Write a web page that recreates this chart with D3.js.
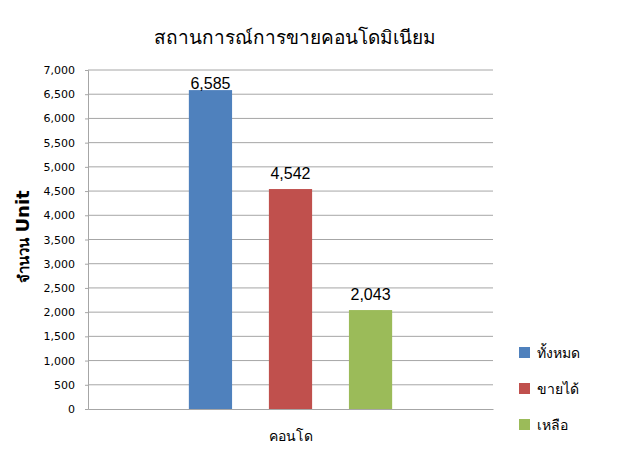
<!DOCTYPE html>
<html>
<head>
<meta charset="utf-8">
<script src="https://cdn.jsdelivr.net/npm/d3@7"></script>
<style>
  body { margin: 0; background: #fff; }
  text { font-family: "DejaVu Sans", "Noto Sans", sans-serif; }
</style>
</head>
<body>
<svg width="623" height="466"></svg>
<script>
var categories = ["คอนโด"];
var seriesNames = ["ทั้งหมด", "ขายได้", "เหลือ"];
var seriesValues = [6585, 4542, 2043];
var seriesColors = ["#4F81BD", "#C0504D", "#9BBB59"];
var yTicks = [0, 500, 1000, 1500, 2000, 2500, 3000, 3500, 4000, 4500, 5000, 5500, 6000, 6500, 7000];

var svg = d3.select("svg"),
    margin = {top: 70, right: 130, bottom: 57, left: 88},
    width = +svg.attr("width") - margin.left - margin.right,
    height = +svg.attr("height") - margin.top - margin.bottom,
    g = svg.append("g").attr("transform", "translate(" + margin.left + "," + margin.top + ")");

var x0 = d3.scaleBand().domain(categories).range([0, width]).padding(0);
var x1 = d3.scaleBand().domain(seriesNames).range([0, x0.bandwidth()])
    .paddingInner(0.46).paddingOuter(1.26);
var y = d3.scaleLinear().domain([0, 7000]).range([height, 0]);
var fmt = d3.format(",");

// gridlines
g.append("g")
    .selectAll("line")
    .data(yTicks.slice(1))
    .enter().append("line")
      .attr("x1", 0).attr("x2", width)
      .attr("y1", function(d) { return y(d); })
      .attr("y2", function(d) { return y(d); })
      .attr("stroke", "#a6a6a6");

var yAxis = g.append("g")
    .call(d3.axisLeft(y).tickValues(yTicks).tickFormat(fmt).tickSize(3).tickPadding(10));
yAxis.select(".domain").attr("stroke", "#a6a6a6");
yAxis.selectAll(".tick line").attr("stroke", "#a6a6a6");
yAxis.selectAll("text").attr("font-size", 11).attr("fill", "#000")
    .style("font-family", "'DejaVu Sans', sans-serif");

var xAxis = g.append("g")
    .attr("transform", "translate(0," + height + ")")
    .call(d3.axisBottom(x0).tickSize(0).tickPadding(22));
xAxis.select(".domain").attr("stroke", "#a6a6a6");
xAxis.selectAll("text").attr("font-size", 14).attr("fill", "#000");

var group = g.selectAll(".cat")
    .data(categories)
    .enter().append("g")
      .attr("class", "cat")
      .attr("transform", function(d) { return "translate(" + x0(d) + ",0)"; });

var bars = group.selectAll(".bar")
    .data(seriesNames.map(function(n, i) { return {name: n, value: seriesValues[i], color: seriesColors[i]}; }))
    .enter();

bars.append("rect")
    .attr("x", function(d) { return x1(d.name); })
    .attr("y", function(d) { return y(d.value); })
    .attr("width", x1.bandwidth())
    .attr("height", function(d) { return height - y(d.value); })
    .attr("fill", function(d) { return d.color; });

bars.append("text")
    .attr("x", function(d) { return x1(d.name) + x1.bandwidth() / 2; })
    .attr("y", function(d) { return Math.max(y(d.value) - 10, 19); })
    .attr("text-anchor", "middle")
    .attr("font-size", 16)
    .style("font-family", "'Liberation Sans', sans-serif")
    .text(function(d) { return fmt(d.value); });

// title
svg.append("text")
    .attr("x", 295).attr("y", 44)
    .attr("text-anchor", "middle")
    .attr("font-size", 19)
    .text("สถานการณ์การขายคอนโดมิเนียม");

// y axis title
var yt = svg.append("text")
    .attr("transform", "translate(29," + (margin.top + height / 2 - 3) + ") rotate(-90)")
    .attr("text-anchor", "middle")
    .attr("font-weight", "bold");
yt.append("tspan").attr("font-size", 15).text("จำนวน ");
yt.append("tspan").attr("font-size", 18).text("Unit");

// legend
var legend = svg.selectAll(".legend")
    .data(seriesNames)
    .enter().append("g")
      .attr("class", "legend")
      .attr("transform", function(d, i) { return "translate(519," + (347 + i * 36) + ")"; });

legend.append("rect")
    .attr("width", 11).attr("height", 11)
    .attr("fill", function(d, i) { return seriesColors[i]; });

legend.append("text")
    .attr("x", 18).attr("y", 11)
    .attr("font-size", 14)
    .text(function(d) { return d; });
</script>
</body>
</html>
